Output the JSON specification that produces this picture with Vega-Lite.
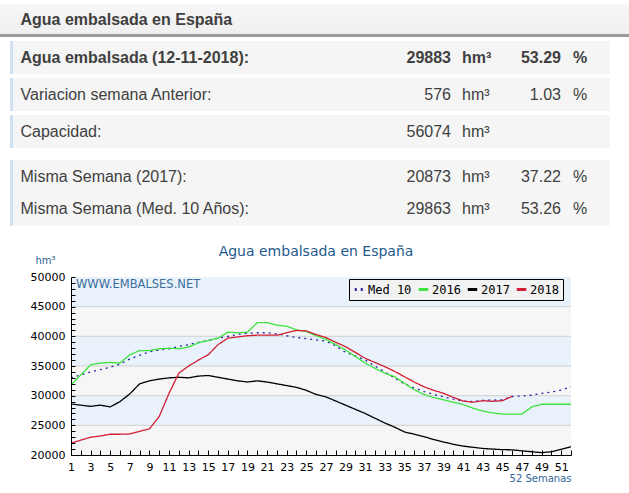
{
  "$schema": "https://vega.github.io/schema/vega-lite/v6.json",
  "width": 500,
  "height": 178,
  "autosize": "none",
  "padding": {"left": 71, "top": 277, "right": 58, "bottom": 38},
  "background": "white",
  "config": {"view": {"stroke": null}},
  "title": {
    "text": "Agua embalsada en España",
    "anchor": "middle",
    "frame": "group",
    "font": "DejaVu Sans",
    "fontSize": 14,
    "fontWeight": "normal",
    "color": "#1f5a8c",
    "dx": -5,
    "dy": 259
  },
  "datasets": {
    "series": [
      {"serie":"Med 10","semana":1,"hm3":33000},{"serie":"Med 10","semana":2,"hm3":33500},{"serie":"Med 10","semana":3,"hm3":34000},{"serie":"Med 10","semana":4,"hm3":34400},{"serie":"Med 10","semana":5,"hm3":34800},{"serie":"Med 10","semana":6,"hm3":35300},{"serie":"Med 10","semana":7,"hm3":36200},{"serie":"Med 10","semana":8,"hm3":36800},{"serie":"Med 10","semana":9,"hm3":37400},{"serie":"Med 10","semana":10,"hm3":37700},{"serie":"Med 10","semana":11,"hm3":37900},{"serie":"Med 10","semana":12,"hm3":38300},{"serie":"Med 10","semana":13,"hm3":38600},{"serie":"Med 10","semana":14,"hm3":39000},{"serie":"Med 10","semana":15,"hm3":39300},{"serie":"Med 10","semana":16,"hm3":39700},{"serie":"Med 10","semana":17,"hm3":40000},{"serie":"Med 10","semana":18,"hm3":40300},{"serie":"Med 10","semana":19,"hm3":40500},{"serie":"Med 10","semana":20,"hm3":40600},{"serie":"Med 10","semana":21,"hm3":40600},{"serie":"Med 10","semana":22,"hm3":40400},{"serie":"Med 10","semana":23,"hm3":40100},{"serie":"Med 10","semana":24,"hm3":39800},{"serie":"Med 10","semana":25,"hm3":39600},{"serie":"Med 10","semana":26,"hm3":39400},{"serie":"Med 10","semana":27,"hm3":39200},{"serie":"Med 10","semana":28,"hm3":38400},{"serie":"Med 10","semana":29,"hm3":37300},{"serie":"Med 10","semana":30,"hm3":36700},{"serie":"Med 10","semana":31,"hm3":36000},{"serie":"Med 10","semana":32,"hm3":35000},{"serie":"Med 10","semana":33,"hm3":34000},{"serie":"Med 10","semana":34,"hm3":33000},{"serie":"Med 10","semana":35,"hm3":32000},{"serie":"Med 10","semana":36,"hm3":31300},{"serie":"Med 10","semana":37,"hm3":30700},{"serie":"Med 10","semana":38,"hm3":30200},{"serie":"Med 10","semana":39,"hm3":29800},{"serie":"Med 10","semana":40,"hm3":29400},{"serie":"Med 10","semana":41,"hm3":29100},{"serie":"Med 10","semana":42,"hm3":29000},{"serie":"Med 10","semana":43,"hm3":29200},{"serie":"Med 10","semana":44,"hm3":29250},{"serie":"Med 10","semana":45,"hm3":29300},{"serie":"Med 10","semana":46,"hm3":29863},{"serie":"Med 10","semana":47,"hm3":29950},{"serie":"Med 10","semana":48,"hm3":30100},{"serie":"Med 10","semana":49,"hm3":30400},{"serie":"Med 10","semana":50,"hm3":30600},{"serie":"Med 10","semana":51,"hm3":30950},{"serie":"Med 10","semana":52,"hm3":31500},
      {"serie":"2016","semana":1,"hm3":31800},{"serie":"2016","semana":2,"hm3":33500},{"serie":"2016","semana":3,"hm3":35200},{"serie":"2016","semana":4,"hm3":35500},{"serie":"2016","semana":5,"hm3":35600},{"serie":"2016","semana":6,"hm3":35500},{"serie":"2016","semana":7,"hm3":36900},{"serie":"2016","semana":8,"hm3":37600},{"serie":"2016","semana":9,"hm3":37600},{"serie":"2016","semana":10,"hm3":37900},{"serie":"2016","semana":11,"hm3":38000},{"serie":"2016","semana":12,"hm3":37900},{"serie":"2016","semana":13,"hm3":38200},{"serie":"2016","semana":14,"hm3":38900},{"serie":"2016","semana":15,"hm3":39300},{"serie":"2016","semana":16,"hm3":39700},{"serie":"2016","semana":17,"hm3":40700},{"serie":"2016","semana":18,"hm3":40600},{"serie":"2016","semana":19,"hm3":40700},{"serie":"2016","semana":20,"hm3":42300},{"serie":"2016","semana":21,"hm3":42300},{"serie":"2016","semana":22,"hm3":41900},{"serie":"2016","semana":23,"hm3":41700},{"serie":"2016","semana":24,"hm3":41100},{"serie":"2016","semana":25,"hm3":40800},{"serie":"2016","semana":26,"hm3":40100},{"serie":"2016","semana":27,"hm3":39500},{"serie":"2016","semana":28,"hm3":38600},{"serie":"2016","semana":29,"hm3":37700},{"serie":"2016","semana":30,"hm3":36600},{"serie":"2016","semana":31,"hm3":35500},{"serie":"2016","semana":32,"hm3":34600},{"serie":"2016","semana":33,"hm3":33800},{"serie":"2016","semana":34,"hm3":33200},{"serie":"2016","semana":35,"hm3":32100},{"serie":"2016","semana":36,"hm3":31000},{"serie":"2016","semana":37,"hm3":30200},{"serie":"2016","semana":38,"hm3":29700},{"serie":"2016","semana":39,"hm3":29300},{"serie":"2016","semana":40,"hm3":28900},{"serie":"2016","semana":41,"hm3":28500},{"serie":"2016","semana":42,"hm3":27900},{"serie":"2016","semana":43,"hm3":27400},{"serie":"2016","semana":44,"hm3":27100},{"serie":"2016","semana":45,"hm3":26900},{"serie":"2016","semana":46,"hm3":26900},{"serie":"2016","semana":47,"hm3":26900},{"serie":"2016","semana":48,"hm3":28100},{"serie":"2016","semana":49,"hm3":28550},{"serie":"2016","semana":50,"hm3":28550},{"serie":"2016","semana":51,"hm3":28550},{"serie":"2016","semana":52,"hm3":28550},
      {"serie":"2017","semana":1,"hm3":28600},{"serie":"2017","semana":2,"hm3":28400},{"serie":"2017","semana":3,"hm3":28200},{"serie":"2017","semana":4,"hm3":28400},{"serie":"2017","semana":5,"hm3":28100},{"serie":"2017","semana":6,"hm3":29000},{"serie":"2017","semana":7,"hm3":30300},{"serie":"2017","semana":8,"hm3":32000},{"serie":"2017","semana":9,"hm3":32500},{"serie":"2017","semana":10,"hm3":32800},{"serie":"2017","semana":11,"hm3":33000},{"serie":"2017","semana":12,"hm3":33100},{"serie":"2017","semana":13,"hm3":33000},{"serie":"2017","semana":14,"hm3":33300},{"serie":"2017","semana":15,"hm3":33400},{"serie":"2017","semana":16,"hm3":33100},{"serie":"2017","semana":17,"hm3":32800},{"serie":"2017","semana":18,"hm3":32500},{"serie":"2017","semana":19,"hm3":32300},{"serie":"2017","semana":20,"hm3":32500},{"serie":"2017","semana":21,"hm3":32300},{"serie":"2017","semana":22,"hm3":32000},{"serie":"2017","semana":23,"hm3":31700},{"serie":"2017","semana":24,"hm3":31400},{"serie":"2017","semana":25,"hm3":30900},{"serie":"2017","semana":26,"hm3":30200},{"serie":"2017","semana":27,"hm3":29800},{"serie":"2017","semana":28,"hm3":29100},{"serie":"2017","semana":29,"hm3":28400},{"serie":"2017","semana":30,"hm3":27700},{"serie":"2017","semana":31,"hm3":27000},{"serie":"2017","semana":32,"hm3":26200},{"serie":"2017","semana":33,"hm3":25400},{"serie":"2017","semana":34,"hm3":24700},{"serie":"2017","semana":35,"hm3":23900},{"serie":"2017","semana":36,"hm3":23500},{"serie":"2017","semana":37,"hm3":23100},{"serie":"2017","semana":38,"hm3":22600},{"serie":"2017","semana":39,"hm3":22200},{"serie":"2017","semana":40,"hm3":21800},{"serie":"2017","semana":41,"hm3":21500},{"serie":"2017","semana":42,"hm3":21300},{"serie":"2017","semana":43,"hm3":21100},{"serie":"2017","semana":44,"hm3":21000},{"serie":"2017","semana":45,"hm3":20900},{"serie":"2017","semana":46,"hm3":20873},{"serie":"2017","semana":47,"hm3":20700},{"serie":"2017","semana":48,"hm3":20550},{"serie":"2017","semana":49,"hm3":20400},{"serie":"2017","semana":50,"hm3":20550},{"serie":"2017","semana":51,"hm3":20950},{"serie":"2017","semana":52,"hm3":21400},
      {"serie":"2018","semana":1,"hm3":22000},{"serie":"2018","semana":2,"hm3":22500},{"serie":"2018","semana":3,"hm3":23000},{"serie":"2018","semana":4,"hm3":23200},{"serie":"2018","semana":5,"hm3":23500},{"serie":"2018","semana":6,"hm3":23500},{"serie":"2018","semana":7,"hm3":23550},{"serie":"2018","semana":8,"hm3":24000},{"serie":"2018","semana":9,"hm3":24400},{"serie":"2018","semana":10,"hm3":26500},{"serie":"2018","semana":11,"hm3":30400},{"serie":"2018","semana":12,"hm3":33800},{"serie":"2018","semana":13,"hm3":35000},{"serie":"2018","semana":14,"hm3":36000},{"serie":"2018","semana":15,"hm3":36900},{"serie":"2018","semana":16,"hm3":38600},{"serie":"2018","semana":17,"hm3":39700},{"serie":"2018","semana":18,"hm3":39900},{"serie":"2018","semana":19,"hm3":40100},{"serie":"2018","semana":20,"hm3":40200},{"serie":"2018","semana":21,"hm3":40200},{"serie":"2018","semana":22,"hm3":40200},{"serie":"2018","semana":23,"hm3":40600},{"serie":"2018","semana":24,"hm3":41000},{"serie":"2018","semana":25,"hm3":40900},{"serie":"2018","semana":26,"hm3":40300},{"serie":"2018","semana":27,"hm3":39800},{"serie":"2018","semana":28,"hm3":39000},{"serie":"2018","semana":29,"hm3":38250},{"serie":"2018","semana":30,"hm3":37300},{"serie":"2018","semana":31,"hm3":36300},{"serie":"2018","semana":32,"hm3":35600},{"serie":"2018","semana":33,"hm3":34900},{"serie":"2018","semana":34,"hm3":34100},{"serie":"2018","semana":35,"hm3":33200},{"serie":"2018","semana":36,"hm3":32300},{"serie":"2018","semana":37,"hm3":31500},{"serie":"2018","semana":38,"hm3":30900},{"serie":"2018","semana":39,"hm3":30400},{"serie":"2018","semana":40,"hm3":29700},{"serie":"2018","semana":41,"hm3":29100},{"serie":"2018","semana":42,"hm3":28900},{"serie":"2018","semana":43,"hm3":29150},{"serie":"2018","semana":44,"hm3":29050},{"serie":"2018","semana":45,"hm3":29150},{"serie":"2018","semana":46,"hm3":29883}
    ],
    "bandas": [
      {"desde":20000,"hasta":25000},{"desde":25000,"hasta":30000},{"desde":30000,"hasta":35000},
      {"desde":35000,"hasta":40000},{"desde":40000,"hasta":45000},{"desde":45000,"hasta":50000}
    ],
    "tabla": [
      {"fila":0,"concepto":"Agua embalsada en España","hm3":"","unidad":"","pct":"","signo":""},
      {"fila":1,"concepto":"Agua embalsada (12-11-2018):","hm3":"29883","unidad":"hm³","pct":"53.29","signo":"%"},
      {"fila":2,"concepto":"Variacion semana Anterior:","hm3":"576","unidad":"hm³","pct":"1.03","signo":"%"},
      {"fila":3,"concepto":"Capacidad:","hm3":"56074","unidad":"hm³","pct":"","signo":""},
      {"fila":4,"concepto":"Misma Semana (2017):","hm3":"20873","unidad":"hm³","pct":"37.22","signo":"%"},
      {"fila":5,"concepto":"Misma Semana (Med. 10 Años):","hm3":"29863","unidad":"hm³","pct":"53.26","signo":"%"}
    ]
  },
  "layer": [
    {
      "layer": [
        {
          "data": {"name": "bandas"},
          "mark": {"type": "rect"},
          "encoding": {
            "y": {"field": "desde", "type": "quantitative", "axis": null},
            "y2": {"field": "hasta"},
            "fill": {"condition": {"test": "datum.desde % 10000 === 5000", "value": "#e9f2fb"}, "value": "#f6f6f6"}
          }
        },
        {
          "data": {"name": "bandas"},
          "transform": [{"filter": "datum.desde > 20000"}],
          "mark": {"type": "rule", "color": "#d0d0d0", "strokeWidth": 1},
          "encoding": {
            "y": {"field": "desde", "type": "quantitative", "axis": null}
          }
        },
        {
          "data": {"values": [{}]},
          "mark": {"type": "text", "align": "left", "baseline": "top", "dx": 5, "dy": 2, "font": "DejaVu Sans", "fontSize": 11.5, "color": "#3a6e9c"},
          "encoding": {
            "x": {"datum": 1, "type": "quantitative",
              "axis": {"orient": "bottom", "values": [1,2,3,4,5,6,7,8,9,10,11,12,13,14,15,16,17,18,19,20,21,22,23,24,25,26,27,28,29,30,31,32,33,34,35,36,37,38,39,40,41,42,43,44,45,46,47,48,49,50,51,52],
                "labels": false, "domain": false, "grid": false, "title": null, "ticks": true, "tickSize": 5, "offset": -5, "tickColor": "black", "zindex": 1}},
            "y": {"datum": 50000, "type": "quantitative",
              "axis": {"orient": "left", "values": [20000,21000,22000,23000,24000,25000,26000,27000,28000,29000,30000,31000,32000,33000,34000,35000,36000,37000,38000,39000,40000,41000,42000,43000,44000,45000,46000,47000,48000,49000,50000],
                "labels": false, "domain": false, "grid": false, "title": null, "ticks": true, "tickSize": 4, "offset": -4, "tickColor": "black", "zindex": 1}},
            "text": {"value": "WWW.EMBALSES.NET"}
          }
        },
        {
          "data": {"name": "series"},
          "mark": {"type": "line", "strokeWidth": 1.3, "interpolate": "linear"},
          "encoding": {
            "x": {
              "field": "semana", "type": "quantitative",
              "scale": {"domain": [1, 52], "nice": false, "zero": false},
              "axis": {
                "orient": "bottom",
                "values": [1,3,5,7,9,11,13,15,17,19,21,23,25,27,29,31,33,35,37,39,41,43,45,47,49,51],
                "labelOverlap": false, "labelFlush": false,
                "zindex": 1, "domain": true, "ticks": false, "tickSize": 0,
                "domainColor": "black", "domainWidth": 1,
                "labelFont": "DejaVu Sans", "labelFontSize": 11, "labelColor": "black", "labelPadding": 6,
                "grid": false,
                "title": "52 Semanas", "titleAnchor": "end", "titleFont": "DejaVu Sans", "titleFontSize": 10,
                "titleFontWeight": "normal", "titleColor": "#2f6496", "titlePadding": 1
              }
            },
            "y": {
              "field": "hm3", "type": "quantitative",
              "scale": {"domain": [20000, 50000], "nice": false, "zero": false},
              "axis": {
                "orient": "left",
                "values": [20000, 25000, 30000, 35000, 40000, 45000, 50000],
                "format": "d",
                "labelOverlap": false,
                "zindex": 1, "domain": true, "ticks": false, "tickSize": 0,
                "domainColor": "black", "domainWidth": 1,
                "labelFont": "DejaVu Sans", "labelFontSize": 11, "labelColor": "black", "labelPadding": 6,
                "grid": false,
                "title": "hm³", "titleAngle": 0, "titleX": -26, "titleY": -17, "titleAlign": "center", "titleBaseline": "middle",
                "titleFont": "DejaVu Sans", "titleFontSize": 10, "titleFontWeight": "normal", "titleColor": "#2f6496"
              }
            },
            "color": {
              "field": "serie", "type": "nominal",
              "scale": {"domain": ["Med 10", "2016", "2017", "2018"], "range": ["#2323a6", "#3ee23e", "#000000", "#d21f35"]},
              "legend": {
                "title": null, "orient": "none", "legendX": 278, "legendY": 2, "direction": "horizontal",
                "fillColor": "#f2f2f2", "strokeColor": "black", "padding": 4, "cornerRadius": 0,
                "gridAlign": "none",
                "symbolType": "stroke", "symbolSize": 90, "symbolStrokeWidth": 3,
                "labelFont": "DejaVu Sans Mono", "labelFontSize": 12, "labelColor": "black", "labelOffset": 2,
                "columnPadding": 0
              }
            },
            "strokeDash": {
              "field": "serie", "type": "nominal",
              "scale": {"domain": ["Med 10", "2016", "2017", "2018"], "range": [[2, 4], [1, 0], [1, 0], [1, 0]]},
              "legend": {
                "title": null, "orient": "none", "legendX": 278, "legendY": 2, "direction": "horizontal",
                "fillColor": "#f2f2f2", "strokeColor": "black", "padding": 4, "cornerRadius": 0,
                "gridAlign": "none",
                "symbolType": "stroke", "symbolSize": 90, "symbolStrokeWidth": 3,
                "labelFont": "DejaVu Sans Mono", "labelFontSize": 12, "labelColor": "black", "labelOffset": 2,
                "columnPadding": 0
              }
            }
          }
        }
      ],
      "resolve": {"axis": {"x": "independent", "y": "independent"}}
    },
    {
      "data": {"name": "tabla"},
      "layer": [
        {
          "transform": [{"filter": "datum.fila === 0"}],
          "mark": {"type": "bar", "orient": "horizontal", "height": 33,
            "fill": {"gradient": "linear", "x1": 0, "y1": 0, "x2": 0, "y2": 1,
              "stops": [{"offset": 0, "color": "#f6f6f6"}, {"offset": 0.9, "color": "#f0f0f0"}, {"offset": 0.91, "color": "#9a9a9a"}, {"offset": 1, "color": "#9a9a9a"}]}},
          "encoding": {
            "y": {"field": "fila", "type": "quantitative", "scale": {"domain": [0, 1, 2, 3, 4, 5], "range": [-261.5, -219.5, -182.5, -145.5, -100.5, -63.5], "nice": false, "zero": false}, "axis": null},
            "x": {"datum": -1, "type": "quantitative", "scale": {"domain": [-1, 0, 0.25, 1, 2, 3, 4, 5, 6, 7], "range": [-71, -61, -58, -50.5, 380, 391, 490, 502, 539, 558], "nice": false, "zero": false}, "axis": null},
            "x2": {"datum": 7}
          }
        },
        {
          "transform": [{"filter": "datum.fila >= 1"}],
          "mark": {"type": "bar", "orient": "horizontal", "height": 33, "fill": "#cfe0f0"},
          "encoding": {
            "y": {"field": "fila", "type": "quantitative", "axis": null},
            "x": {"datum": 0, "type": "quantitative", "axis": null},
            "x2": {"datum": 0.25}
          }
        },
        {
          "transform": [{"filter": "datum.fila >= 1"}],
          "mark": {"type": "bar", "orient": "horizontal", "height": 33, "fill": "#f5f5f5"},
          "encoding": {
            "y": {"field": "fila", "type": "quantitative", "axis": null},
            "x": {"datum": 0.25, "type": "quantitative", "axis": null},
            "x2": {"datum": 6}
          }
        },
        {
          "mark": {"type": "text", "align": "left", "baseline": "middle", "font": "Liberation Sans", "fontSize": 16,
            "fontWeight": {"expr": "datum.fila <= 1 ? 'bold' : 'normal'"}, "color": "#404040"},
          "encoding": {
            "y": {"field": "fila", "type": "quantitative", "axis": null},
            "x": {"datum": 1, "type": "quantitative", "axis": null},
            "text": {"field": "concepto"}
          }
        },
        {
          "transform": [{"filter": "datum.fila >= 1"}],
          "mark": {"type": "text", "align": "right", "baseline": "middle", "font": "Liberation Sans", "fontSize": 16,
            "fontWeight": {"expr": "datum.fila <= 1 ? 'bold' : 'normal'"}, "color": "#404040"},
          "encoding": {
            "y": {"field": "fila", "type": "quantitative", "axis": null},
            "x": {"datum": 2, "type": "quantitative", "axis": null},
            "text": {"field": "hm3"}
          }
        },
        {
          "transform": [{"filter": "datum.fila >= 1"}],
          "mark": {"type": "text", "align": "left", "baseline": "middle", "font": "Liberation Sans", "fontSize": 16,
            "fontWeight": {"expr": "datum.fila <= 1 ? 'bold' : 'normal'"}, "color": "#404040"},
          "encoding": {
            "y": {"field": "fila", "type": "quantitative", "axis": null},
            "x": {"datum": 3, "type": "quantitative", "axis": null},
            "text": {"field": "unidad"}
          }
        },
        {
          "transform": [{"filter": "datum.fila >= 1"}],
          "mark": {"type": "text", "align": "right", "baseline": "middle", "font": "Liberation Sans", "fontSize": 16,
            "fontWeight": {"expr": "datum.fila <= 1 ? 'bold' : 'normal'"}, "color": "#404040"},
          "encoding": {
            "y": {"field": "fila", "type": "quantitative", "axis": null},
            "x": {"datum": 4, "type": "quantitative", "axis": null},
            "text": {"field": "pct"}
          }
        },
        {
          "transform": [{"filter": "datum.fila >= 1"}],
          "mark": {"type": "text", "align": "left", "baseline": "middle", "font": "Liberation Sans", "fontSize": 16,
            "fontWeight": {"expr": "datum.fila <= 1 ? 'bold' : 'normal'"}, "color": "#404040"},
          "encoding": {
            "y": {"field": "fila", "type": "quantitative", "axis": null},
            "x": {"datum": 5, "type": "quantitative", "axis": null},
            "text": {"field": "signo"}
          }
        }
      ]
    }
  ],
  "resolve": {"scale": {"x": "independent", "y": "independent"}}
}
